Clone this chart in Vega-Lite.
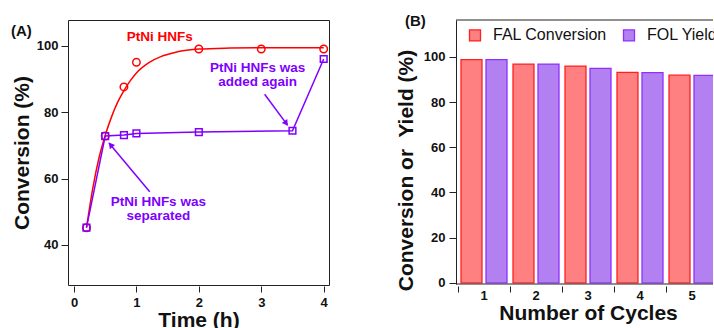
{
  "$schema": "https://vega.github.io/schema/vega-lite/v6.json",
  "padding": {"left": 10, "top": 13, "right": 0, "bottom": 0},
  "autosize": {"type": "pad"},
  "spacing": 64,
  "config": {
    "font": "Liberation Sans",
    "view": {"stroke": null},
    "axis": {
      "labelFont": "Liberation Sans", "labelFontWeight": "bold", "labelFontSize": 13, "labelColor": "#111",
      "titleFont": "Liberation Sans", "titleFontWeight": "bold", "titleFontSize": 21, "titleColor": "#111",
      "tickColor": "#222", "domainColor": "#222", "grid": false
    },
    "title": {"font": "Liberation Sans", "fontWeight": "bold", "fontSize": 15, "color": "#111"}
  },
  "datasets": {
    "fit": [
      {"t": 0.2, "conv": 45.2}, {"t": 0.3, "conv": 57.0}, {"t": 0.4, "conv": 66.2}, {"t": 0.5, "conv": 73.0},
      {"t": 0.6, "conv": 78.5}, {"t": 0.7, "conv": 83.0}, {"t": 0.8, "conv": 86.5}, {"t": 0.9, "conv": 89.4},
      {"t": 1.0, "conv": 91.8}, {"t": 1.2, "conv": 94.9}, {"t": 1.4, "conv": 96.8}, {"t": 1.6, "conv": 97.9},
      {"t": 1.8, "conv": 98.6}, {"t": 2.0, "conv": 99.0}, {"t": 2.5, "conv": 99.3}, {"t": 3.0, "conv": 99.4},
      {"t": 4.0, "conv": 99.4}
    ],
    "pts": [
      {"t": 0.2, "conv": 45.2, "series": "PtNi HNFs"},
      {"t": 0.5, "conv": 72.8, "series": "PtNi HNFs"},
      {"t": 0.8, "conv": 87.6, "series": "PtNi HNFs"},
      {"t": 1.0, "conv": 95.0, "series": "PtNi HNFs"},
      {"t": 2.0, "conv": 99.0, "series": "PtNi HNFs"},
      {"t": 3.0, "conv": 99.0, "series": "PtNi HNFs"},
      {"t": 4.0, "conv": 99.0, "series": "PtNi HNFs"},
      {"t": 0.2, "conv": 45.2, "series": "separated"},
      {"t": 0.5, "conv": 72.8, "series": "separated"},
      {"t": 0.8, "conv": 73.1, "series": "separated"},
      {"t": 1.0, "conv": 73.6, "series": "separated"},
      {"t": 2.0, "conv": 74.0, "series": "separated"},
      {"t": 3.5, "conv": 74.4, "series": "separated"},
      {"t": 4.0, "conv": 96.0, "series": "separated"}
    ],
    "notes": [
      {"t": 1.373, "conv": 102.7, "label": "PtNi HNFs", "who": "red"},
      {"t": 2.94, "conv": 93.2, "label": "PtNi HNFs was", "who": "purple"},
      {"t": 2.94, "conv": 89.1, "label": "added again", "who": "purple"},
      {"t": 1.35, "conv": 53.0, "label": "PtNi HNFs was", "who": "purple"},
      {"t": 1.35, "conv": 48.7, "label": "separated", "who": "purple"}
    ],
    "arrows": [
      {"id": "sep", "t0": 1.213, "c0": 56.0, "t1": 0.56, "c1": 70.7},
      {"id": "add", "t0": 3.054, "c0": 85.4, "t1": 3.42, "c1": 76.1}
    ],
    "heads": [
      {"id": "sep", "t": 0.586, "conv": 70.15},
      {"id": "add", "t": 3.40, "conv": 76.6}
    ],
    "bars": [
      {"cycle": 1, "series": "FAL Conversion", "value": 98.8},
      {"cycle": 1, "series": "FOL Yield", "value": 98.8},
      {"cycle": 2, "series": "FAL Conversion", "value": 96.8},
      {"cycle": 2, "series": "FOL Yield", "value": 96.8},
      {"cycle": 3, "series": "FAL Conversion", "value": 95.9},
      {"cycle": 3, "series": "FOL Yield", "value": 94.9},
      {"cycle": 4, "series": "FAL Conversion", "value": 93.1},
      {"cycle": 4, "series": "FOL Yield", "value": 93.0},
      {"cycle": 5, "series": "FAL Conversion", "value": 91.9},
      {"cycle": 5, "series": "FOL Yield", "value": 91.8}
    ]
  },
  "hconcat": [
    {
      "width": 261, "height": 265,
      "title": {"text": "(A)", "anchor": "start", "frame": "group", "offset": 0, "baseline": "middle", "dx": -57, "dy": 26},
      "view": {"stroke": "#222", "strokeWidth": 1},
      "layer": [
        {
          "data": {"name": "fit"},
          "mark": {"type": "line", "color": "#ff0000", "strokeWidth": 1.5, "interpolate": "monotone"},
          "encoding": {
            "x": {"field": "t", "type": "quantitative",
                  "scale": {"domain": [-0.096, 4.085], "nice": false, "zero": false},
                  "axis": {"title": "Time (h)", "values": [0, 1, 2, 3, 4], "format": "d", "domain": false, "tickSize": 6, "offset": 1, "labelPadding": 4, "titlePadding": 0}},
            "y": {"field": "conv", "type": "quantitative",
                  "scale": {"domain": [27.95, 107.74], "nice": false, "zero": false},
                  "axis": {"title": "Conversion (%)", "values": [40, 60, 80, 100], "format": "d", "domain": false, "tickSize": 7, "labelPadding": 3, "titlePadding": 4}}
          }
        },
        {
          "data": {"name": "pts"},
          "transform": [{"filter": "datum.series === 'separated'"}],
          "mark": {"type": "line", "color": "#8000ff", "strokeWidth": 1.5},
          "encoding": {"x": {"field": "t", "type": "quantitative"}, "y": {"field": "conv", "type": "quantitative"}}
        },
        {
          "data": {"name": "pts"},
          "transform": [{"filter": "datum.series === 'PtNi HNFs'"}],
          "mark": {"type": "point", "shape": "circle", "filled": false, "color": "#ff0000", "size": 56, "strokeWidth": 1.5, "opacity": 1},
          "encoding": {"x": {"field": "t", "type": "quantitative"}, "y": {"field": "conv", "type": "quantitative"}}
        },
        {
          "data": {"name": "pts"},
          "transform": [{"filter": "datum.series === 'separated'"}],
          "mark": {"type": "point", "shape": "square", "filled": false, "color": "#8000ff", "size": 45, "strokeWidth": 1.5, "opacity": 1},
          "encoding": {"x": {"field": "t", "type": "quantitative"}, "y": {"field": "conv", "type": "quantitative"}}
        },
        {
          "data": {"name": "arrows"},
          "mark": {"type": "rule", "color": "#8000ff", "strokeWidth": 1.5},
          "encoding": {
            "x": {"field": "t0", "type": "quantitative"}, "y": {"field": "c0", "type": "quantitative"},
            "x2": {"field": "t1"}, "y2": {"field": "c1"}
          }
        },
        {
          "data": {"name": "heads"},
          "transform": [{"filter": "datum.id === 'sep'"}],
          "mark": {"type": "point", "shape": "triangle-up", "filled": true, "color": "#8000ff", "size": 45, "angle": 320, "opacity": 1},
          "encoding": {"x": {"field": "t", "type": "quantitative"}, "y": {"field": "conv", "type": "quantitative"}}
        },
        {
          "data": {"name": "heads"},
          "transform": [{"filter": "datum.id === 'add'"}],
          "mark": {"type": "point", "shape": "triangle-up", "filled": true, "color": "#8000ff", "size": 45, "angle": 143, "opacity": 1},
          "encoding": {"x": {"field": "t", "type": "quantitative"}, "y": {"field": "conv", "type": "quantitative"}}
        },
        {
          "data": {"name": "notes"},
          "transform": [{"filter": "datum.who === 'red'"}],
          "mark": {"type": "text", "color": "#ff0000", "fontSize": 13.5, "fontWeight": "bold", "font": "Liberation Sans", "baseline": "middle", "align": "center"},
          "encoding": {"x": {"field": "t", "type": "quantitative"}, "y": {"field": "conv", "type": "quantitative"}, "text": {"field": "label"}}
        },
        {
          "data": {"name": "notes"},
          "transform": [{"filter": "datum.who === 'purple'"}],
          "mark": {"type": "text", "color": "#8000ff", "fontSize": 13.5, "fontWeight": "bold", "font": "Liberation Sans", "baseline": "middle", "align": "center"},
          "encoding": {"x": {"field": "t", "type": "quantitative"}, "y": {"field": "conv", "type": "quantitative"}, "text": {"field": "label"}}
        }
      ]
    },
    {
      "width": 257, "height": 264,
      "title": {"text": "(B)", "anchor": "start", "frame": "group", "offset": 0, "baseline": "middle", "dx": -51, "dy": 16},
      "layer": [
        {
          "data": {"name": "bars"},
          "mark": {"type": "bar", "clip": true, "strokeWidth": 1.3},
          "encoding": {
            "x": {"field": "cycle", "type": "ordinal",
                  "scale": {"range": [2, 262], "paddingInner": 0, "paddingOuter": 0},
                  "axis": {"title": "Number of Cycles", "labelAngle": 0, "bandPosition": 0, "tickExtra": false, "domain": false, "tickSize": 6, "offset": 2, "labelPadding": -3, "titlePadding": 0}},
            "xOffset": {"field": "series", "type": "nominal",
                        "scale": {"paddingInner": 0.16, "paddingOuter": 0.12}},
            "y": {"field": "value", "type": "quantitative",
                  "scale": {"domain": [-0.5, 116.3], "nice": false, "zero": false},
                  "axis": {"title": "Conversion or\u00a0 Yield (%)", "values": [0, 20, 40, 60, 80, 100], "format": "d", "tickSize": 7, "labelPadding": 4, "titlePadding": 7, "titleY": 150}},
            "color": {"field": "series", "type": "nominal",
                      "scale": {"domain": ["FAL Conversion", "FOL Yield"], "range": ["#ff8080", "#b380f2"]},
                      "legend": {"title": null, "orient": "none", "legendX": 399, "legendY": 7, "direction": "horizontal",
                                 "symbolType": "square", "symbolSize": 121, "symbolStrokeWidth": 1.3,
                                 "labelFont": "Liberation Sans", "labelFontSize": 16, "labelColor": "#111",
                                 "labelOffset": 10, "columnPadding": 13, "padding": 0}},
            "stroke": {"field": "series", "type": "nominal",
                       "scale": {"domain": ["FAL Conversion", "FOL Yield"], "range": ["#ff2020", "#9030ff"]}}
          }
        },
        {
          "data": {"values": [{}]},
          "mark": {"type": "rule", "color": "#222", "strokeWidth": 1},
          "encoding": {"y": {"datum": 116.3}}
        },
        {
          "data": {"values": [{}]},
          "mark": {"type": "rule", "color": "#222", "strokeWidth": 1},
          "encoding": {"y": {"datum": -0.5}}
        }
      ]
    }
  ]
}
